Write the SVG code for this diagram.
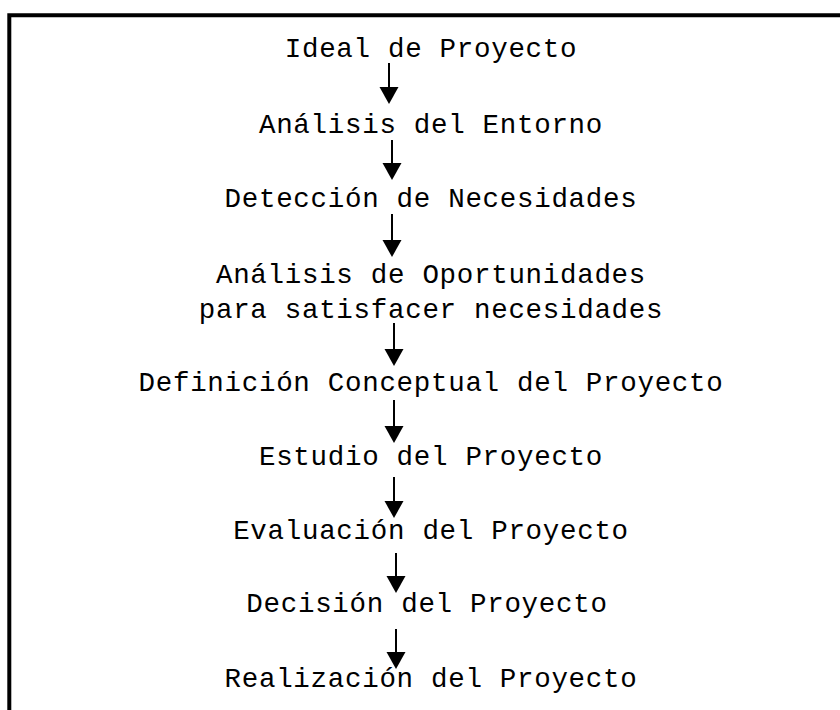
<svg xmlns="http://www.w3.org/2000/svg" width="840" height="710" viewBox="0 0 840 710">
<style>
.t{font-family:"Liberation Mono","DejaVu Sans Mono",monospace;font-size:27.5px;letter-spacing:0.7px;fill:#000;text-anchor:middle}
.c{stroke:#000;stroke-width:2;fill:none}
.h{fill:#000;stroke:none}
</style>
<rect x="0" y="0" width="840" height="710" fill="#fff"/>
<path d="M9.3 710 V15.3 H840" fill="none" stroke="#000" stroke-width="4"/>
<g id="n1"><text class="t" x="431" y="57">Ideal de Proyecto</text></g>
<g id="n2"><text class="t" x="431" y="133">Análisis del Entorno</text></g>
<g id="n3"><text class="t" x="431" y="207">Detección de Necesidades</text></g>
<g id="n4"><text class="t" x="431" y="283">Análisis de Oportunidades</text><text class="t" x="431" y="318">para satisfacer necesidades</text></g>
<g id="n5"><text class="t" x="431" y="391">Definición Conceptual del Proyecto</text></g>
<g id="n6"><text class="t" x="431" y="465">Estudio del Proyecto</text></g>
<g id="n7"><text class="t" x="431" y="539">Evaluación del Proyecto</text></g>
<g id="n8"><text class="t" x="427" y="612">Decisión del Proyecto</text></g>
<g id="n9"><text class="t" x="431" y="687">Realización del Proyecto</text></g>
<g id="connectors">
<path class="c" d="M389 63 V88"/><path class="h" d="M379.5 87 H398.5 L389 104 Z"/>
<path class="c" d="M392 140 V164"/><path class="h" d="M382.5 163 H401.5 L392 180 Z"/>
<path class="c" d="M392 214 V241"/><path class="h" d="M382.5 240 H401.5 L392 257 Z"/>
<path class="c" d="M394 323 V350"/><path class="h" d="M384.5 349 H403.5 L394 366 Z"/>
<path class="c" d="M394 400 V427"/><path class="h" d="M384.5 426 H403.5 L394 443 Z"/>
<path class="c" d="M394 477 V502"/><path class="h" d="M384.5 501 H403.5 L394 518 Z"/>
<path class="c" d="M396 553 V577"/><path class="h" d="M386.5 576 H405.5 L396 593 Z"/>
<path class="c" d="M396 629 V653"/><path class="h" d="M386.5 652 H405.5 L396 669 Z"/>
</g>
</svg>
